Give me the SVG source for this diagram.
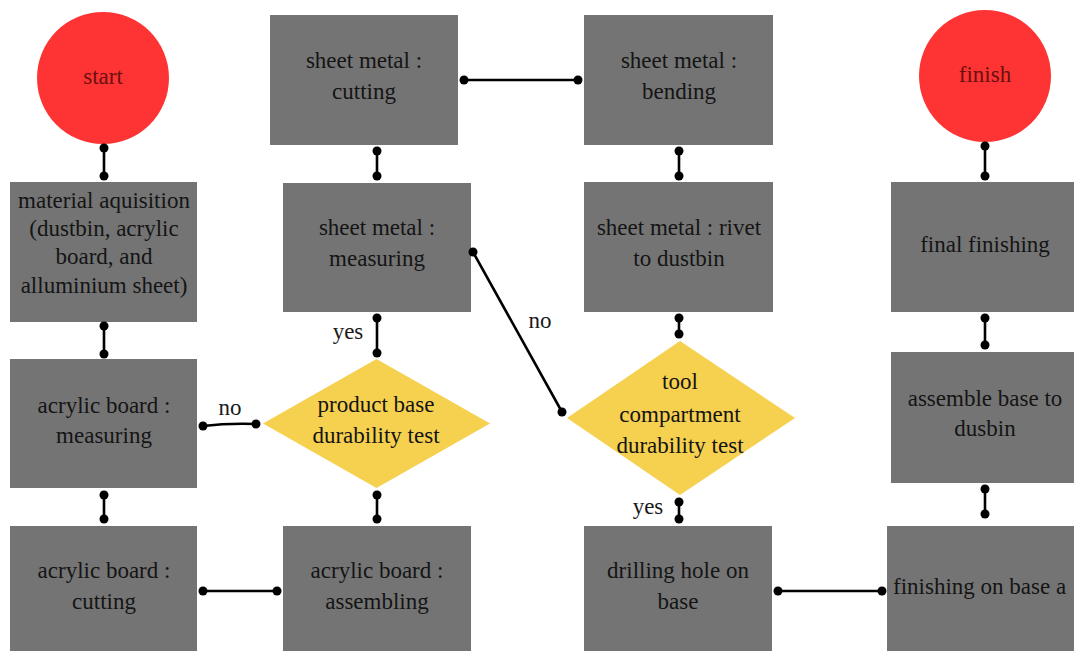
<svg xmlns="http://www.w3.org/2000/svg" width="1074" height="651" viewBox="0 0 1074 651">
<style>
.box{fill:#747474}
.dia{fill:#f6d04f}
.circ{fill:#fe3434}
text{font-family:"Liberation Serif",serif;font-size:23px;fill:#141414;text-anchor:middle}
.ct{fill:#6a1010}
.lbl{fill:#1a1a1a}
.ln{stroke:#000;stroke-width:2.6;fill:none}
.dot{fill:#000}
.st{text-anchor:start}
</style>
<rect width="1074" height="651" fill="#fff"/>
<g id="start"><circle class="circ" cx="103" cy="78" r="66"/><text class="ct" x="103" y="84">start</text></g>
<g id="finish"><circle class="circ" cx="985" cy="76" r="66"/><text class="ct" x="985" y="82">finish</text></g>
<g id="material"><rect class="box" x="10" y="182" width="187" height="140"/>
<text x="104" y="208">material aquisition</text><text x="104" y="236">(dustbin, acrylic</text><text x="104" y="264">board, and</text><text x="104" y="293">alluminium sheet)</text></g>
<g id="sm-cutting"><rect class="box" x="270" y="15" width="188" height="130"/><text x="364" y="68">sheet metal :</text><text x="364" y="99">cutting</text></g>
<g id="sm-bending"><rect class="box" x="584" y="15" width="189" height="130"/><text x="679" y="68">sheet metal :</text><text x="679" y="99">bending</text></g>
<g id="sm-measuring"><rect class="box" x="283" y="183" width="188" height="129"/><text x="377" y="235">sheet metal :</text><text x="377" y="266">measuring</text></g>
<g id="sm-rivet"><rect class="box" x="584" y="182" width="189" height="130"/><text x="679" y="235">sheet metal : rivet</text><text x="679" y="266">to dustbin</text></g>
<g id="final-finishing"><rect class="box" x="891" y="182" width="189" height="130"/><text x="985" y="252">final finishing</text></g>
<g id="ab-measuring"><rect class="box" x="10" y="359" width="187" height="129"/><text x="104" y="413">acrylic board :</text><text x="104" y="443">measuring</text></g>
<g id="product-test"><polygon class="dia" points="263,423.5 376.5,359 490,423.5 376.5,488"/><text x="376" y="412">product base</text><text x="376" y="443">durability test</text></g>
<g id="tool-test"><polygon class="dia" points="567,418 680,341 795,418 680,495"/><text x="680" y="389">tool</text><text x="680" y="422">compartment</text><text x="680" y="453">durability test</text></g>
<g id="assemble-base"><rect class="box" x="891" y="352" width="189" height="131"/><text x="985" y="406">assemble base to</text><text x="985" y="436">dusbin</text></g>
<g id="ab-cutting"><rect class="box" x="10" y="526" width="187" height="135"/><text x="104" y="578">acrylic board :</text><text x="104" y="609">cutting</text></g>
<g id="ab-assembling"><rect class="box" x="283" y="526" width="188" height="135"/><text x="377" y="578">acrylic board :</text><text x="377" y="609">assembling</text></g>
<g id="drilling"><rect class="box" x="584" y="526" width="188" height="135"/><text x="678" y="578">drilling hole on</text><text x="678" y="609">base</text></g>
<g id="finishing-base"><rect class="box" x="887" y="526" width="193" height="135"/><text class="st" x="893" y="594">finishing on base a</text></g>
<g id="connectors">
<path class="ln" d="M104,148V176M104,326V354M104,495V519M377,151V176M377,318V353M377,495V519M679,151V176M679,318V334M679,502V519M985,146V176M985,318V345M985,489V514"/>
<path class="ln" d="M464,80H578M203,591H277M778,591H882M203,426Q228,423 256,424M473,252L562,412"/>
<g class="dot">
<circle cx="104" cy="148" r="4.5"/><circle cx="104" cy="176" r="4.5"/>
<circle cx="104" cy="326" r="4.5"/><circle cx="104" cy="354" r="4.5"/>
<circle cx="104" cy="495" r="4.5"/><circle cx="104" cy="519" r="4.5"/>
<circle cx="377" cy="151" r="4.5"/><circle cx="377" cy="176" r="4.5"/>
<circle cx="377" cy="318" r="4.5"/><circle cx="377" cy="353" r="4.5"/>
<circle cx="377" cy="495" r="4.5"/><circle cx="377" cy="519" r="4.5"/>
<circle cx="679" cy="151" r="4.5"/><circle cx="679" cy="176" r="4.5"/>
<circle cx="679" cy="318" r="4.5"/><circle cx="679" cy="334" r="4.5"/>
<circle cx="679" cy="502" r="4.5"/><circle cx="679" cy="519" r="4.5"/>
<circle cx="985" cy="146" r="4.5"/><circle cx="985" cy="176" r="4.5"/>
<circle cx="985" cy="318" r="4.5"/><circle cx="985" cy="345" r="4.5"/>
<circle cx="985" cy="489" r="4.5"/><circle cx="985" cy="514" r="4.5"/>
<circle cx="464" cy="80" r="4.5"/><circle cx="578" cy="80" r="4.5"/>
<circle cx="203" cy="591" r="4.5"/><circle cx="277" cy="591" r="4.5"/>
<circle cx="778" cy="591" r="4.5"/><circle cx="882" cy="591" r="4.5"/>
<circle cx="203" cy="426" r="4.5"/><circle cx="256" cy="424" r="4.5"/>
<circle cx="473" cy="252" r="4.5"/><circle cx="562" cy="412" r="4.5"/>
</g>
<text class="lbl" x="230" y="415">no</text>
<text class="lbl" x="540" y="328">no</text>
<text class="lbl" x="348" y="339">yes</text>
<text class="lbl" x="648" y="514">yes</text>
</g>
</svg>
